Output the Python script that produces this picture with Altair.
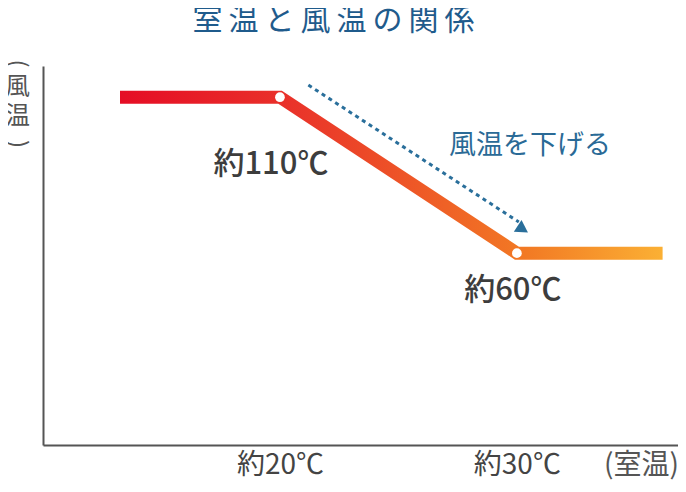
import altair as alt
import pandas as pd

FONT = "Noto Sans CJK JP"

# main curve (room temp -> wind temp)
room_temp = [13.25, 20, 30, 36.15]
wind_temp = [110, 110, 60, 60]
# marked points
point_x = [20, 30]
point_y = [110, 60]
# dashed arrow
arrow_x = [21.2, 30.08]
arrow_y = [113.9, 70.0]
head_x = [30.25]
head_y = [67.7]
# annotations
ann_text = ["約110℃", "約60℃"]
ann_x = [19.62, 29.83]
ann_y = [88.3, 47.9]
note_text = ["風温を下げる"]
note_x = [30.55]
note_y = [94.4]
# vertical-writing parentheses around the y title
paren_text = ["(", ")"]
paren_x = [8.9, 8.9]
paren_y = [120.8, 95.0]
# axis ticks
tick_values = [20, 30]
tick_labels = ["約20℃", "約30℃"]

xs = alt.Scale(domain=[10, 36.8], nice=False, zero=False)
ys = alt.Scale(domain=[-1.5, 120], nice=False, zero=False)

label_expr = " : ".join(
    [f"datum.value == {v} ? '{l}'" for v, l in zip(tick_values[:-1], tick_labels[:-1])]
    + [f"'{tick_labels[-1]}'"]
)

x_axis = alt.Axis(
    values=tick_values, labelExpr=label_expr, ticks=False, grid=False,
    domainColor="#555555", domainWidth=2, labelFont=FONT, labelFontSize=28,
    labelColor="#444444", labelPadding=6,
    title="(室温)", titleX=598, titleY=6, titleAngle=0, titleAlign="center",
    titleBaseline="top", titleFont=FONT, titleFontSize=28, titleFontWeight="normal",
    titleColor="#555555",
)
y_axis = alt.Axis(
    ticks=False, labels=False, grid=False, domainColor="#555555", domainWidth=2,
    title=["風", "温"], titleAngle=0, titleX=-26, titleY=8,
    titleAlign="center", titleBaseline="top", titleFont=FONT, titleFontSize=25,
    titleFontWeight="normal", titleColor="#555555", titleLineHeight=29,
)

curve = pd.DataFrame({"x": room_temp, "y": wind_temp})
pts = pd.DataFrame({"x": point_x, "y": point_y})
arr = pd.DataFrame({"x": arrow_x, "y": arrow_y})
head = pd.DataFrame({"x": head_x, "y": head_y})
ann = pd.DataFrame({"x": ann_x, "y": ann_y, "t": ann_text})
note = pd.DataFrame({"x": note_x, "y": note_y, "t": note_text})
par = pd.DataFrame({"x": paren_x, "y": paren_y, "t": paren_text})

grad = alt.Gradient(
    gradient="linear", x1=0, x2=1, y1=0, y2=0,
    stops=[
        alt.GradientStop(offset=0, color="#e50d25"),
        alt.GradientStop(offset=0.3, color="#e9302a"),
        alt.GradientStop(offset=0.75, color="#f27a24"),
        alt.GradientStop(offset=1, color="#fbb034"),
    ],
)

line = alt.Chart(curve).mark_line(
    stroke=grad, strokeWidth=13, strokeCap="butt", strokeJoin="miter"
).encode(
    x=alt.X("x:Q", scale=xs, axis=x_axis),
    y=alt.Y("y:Q", scale=ys, axis=y_axis),
    order=alt.Order("x:Q"),
)

dots = alt.Chart(pts).mark_point(
    filled=True, color="white", opacity=1, size=95, shape="circle"
).encode(x=alt.X("x:Q", scale=xs), y=alt.Y("y:Q", scale=ys))

dash = alt.Chart(arr).mark_line(
    color="#2a6f9b", strokeWidth=3, strokeDash=[4, 4], strokeCap="butt"
).encode(x=alt.X("x:Q", scale=xs), y=alt.Y("y:Q", scale=ys))

arrowhead = alt.Chart(head).mark_point(
    filled=True, color="#2a6f9b", opacity=1, shape="triangle-right", size=200, angle=33
).encode(x=alt.X("x:Q", scale=xs), y=alt.Y("y:Q", scale=ys))

ann_text_mark = alt.Chart(ann).mark_text(
    font=FONT, fontSize=31, fontWeight=500, color="#3d3d3d", align="center", baseline="middle"
).encode(x=alt.X("x:Q", scale=xs), y=alt.Y("y:Q", scale=ys), text="t:N")

note_mark = alt.Chart(note).mark_text(
    font=FONT, fontSize=27, color="#2a6a96", align="center", baseline="middle"
).encode(x=alt.X("x:Q", scale=xs), y=alt.Y("y:Q", scale=ys), text="t:N")

paren_mark = alt.Chart(par).mark_text(
    font=FONT, fontSize=24, color="#555555", align="center", baseline="middle",
    angle=90, clip=False,
).encode(x=alt.X("x:Q", scale=xs), y=alt.Y("y:Q", scale=ys), text="t:N")

chart = alt.layer(line, dash, arrowhead, dots, ann_text_mark, note_mark, paren_mark).properties(
    width=635, height=379,
    title=alt.Title(
        "\u2009".join("室温と風温の関係"), font=FONT, fontSize=30, fontWeight="normal",
        color="#1f5b8c", anchor="middle", dx=-27, offset=23,
    ),
    autosize=alt.AutoSizeParams(type="none"),
    padding={"left": 35, "top": 58, "right": 0, "bottom": 38},
).configure_view(stroke=None)

chart.save("out.html", embed_options={"renderer": "svg", "actions": False})
